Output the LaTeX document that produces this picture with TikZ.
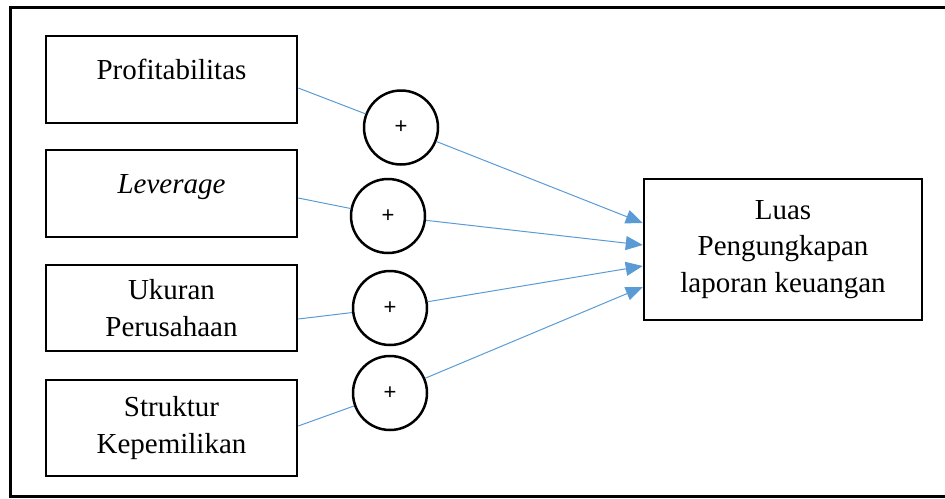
\documentclass[tikz,border=0pt]{standalone}
\usepackage{fontspec}
\setmainfont{Liberation Serif}
\newfontfamily\boxfont{Liberation Serif}
\newfontfamily\signfont{Liberation Sans}
\usepackage{tikz}
\usetikzlibrary{calc, arrows.meta, positioning}
\definecolor{linkblue}{RGB}{91,155,213}

\begin{document}
\begin{tikzpicture}[x=1pt, y=-1pt,
		box/.style={draw, line width=2.5pt, minimum width=251pt, minimum height=87pt, align=center, font=\boxfont\fontsize{29}{37}\selectfont},
		onel/.style={text height=0.7em, text depth=0.66em},
		sign/.style={draw, circle, line width=2.5pt, minimum size=74pt, inner sep=0pt, font=\signfont\fontsize{22}{22}\selectfont},
		link/.style={linkblue, line width=1pt},
		tip/.style={-{Triangle[length=17pt, width=14pt]}}]
			\useasboundingbox (0,0) rectangle (945,498);
			\draw[line width=3pt] (946,7) -- (10.5,7) -- (10.5,496.5) -- (946,496.5);
			\node[box, onel] (prof) at (171.5,79.5) {Profitabilitas};
			\node[box, onel] (lev) at (171.5,193.5) {\textit{Leverage}};
			\node[box, minimum height=86pt] (size) at (171.5,308) {Ukuran\\Perusahaan};
			\node[box, minimum height=96pt] (own) at (171.5,428) {Struktur\\Kepemilikan};
			\node[box, minimum width=278pt, minimum height=141pt, font=\boxfont\fontsize{29}{36.5}\selectfont] (disc) at (783,249.5) {Luas\\Pengungkapan\\laporan keuangan};
			\node[sign] (s1) at (401,127.5) {+};
			\node[sign] (s2) at (388,216) {+};
			\node[sign] (s3) at (390,308) {+};
			\node[sign] (s4) at (390,393) {+};
			\coordinate (in1) at ([yshift=26.5pt]disc.west);
			\coordinate (in2) at ([yshift=4.5pt]disc.west);
			\coordinate (in3) at ([yshift=-16.5pt]disc.west);
			\coordinate (in4) at ([yshift=-37.5pt]disc.west);
			\draw[link] ([yshift=-8.5pt]prof.east) -- (s1);
			\draw[link] ([yshift=-4.5pt]lev.east) -- (s2);
			\draw[link] ([yshift=-11pt]size.east) -- (s3);
			\draw[link] ([yshift=2pt]own.east) -- (s4);
			\draw[link, tip] (s1) -- (in1);
			\draw[link, tip] (s2) -- (in2);
			\draw[link, tip] (s3) -- (in3);
			\draw[link, tip] (s4) -- (in4);
		\end{tikzpicture}
\end{document}
